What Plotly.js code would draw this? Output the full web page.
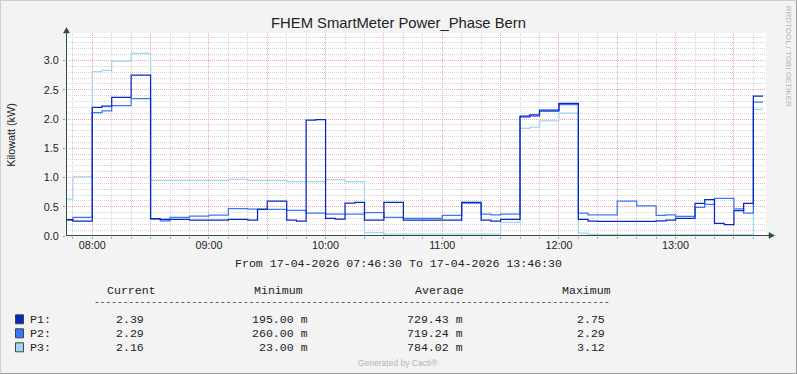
<!DOCTYPE html>
<html>
<head>
<meta charset="utf-8">
<script src="https://cdn.plot.ly/plotly-3.0.1.min.js"></script>
<style>
  html, body { margin: 0; padding: 0; background: #f3f3f3; }
  #wrap { position: relative; width: 797px; height: 374px; }
  #chart { width: 797px; height: 374px; }
  #frame { position: absolute; left: 0; top: 0; width: 797px; height: 374px; box-sizing: border-box;
           border-top: 1px solid #cfcfcf; border-left: 1px solid #cfcfcf;
           border-right: 1px solid #9e9e9e; border-bottom: 1px solid #9e9e9e; pointer-events: none; }
</style>
</head>
<body>
<div id="wrap"><div id="chart"></div><div id="frame"></div></div>
<script>
// ---------- data (5-minute samples, first sample interval starts 07:45) ----------
const chartTitle = 'FHEM SmartMeter Power_Phase Bern';
const yAxisTitle = 'Kilowatt (kW)';
const dayPrefix = '2026-04-17 ';
const firstSampleMinute = 7 * 60 + 45;   // 07:45
const sampleStepMinutes = 5;
const viewStart = '2026-04-17 07:46:30';
const viewEnd = '2026-04-17 13:46:30';

const seriesNames = ['P1', 'P2', 'P3'];

const p1Values = [
  0.28, 0.256, 0.256, 2.20, 2.22, 2.37, 2.37, 2.75, 2.75,
  0.296, 0.286, 0.286, 0.286, 0.27, 0.27, 0.27, 0.27, 0.286, 0.286, 0.27,
  0.456, 0.595, 0.595, 0.27, 0.256, 1.98, 1.99, 0.30, 0.29, 0.56, 0.575,
  0.27, 0.27, 0.575, 0.575, 0.27, 0.27, 0.27, 0.27, 0.27, 0.27, 0.575, 0.575,
  0.27, 0.256, 0.285, 0.285, 2.05, 2.07, 2.15, 2.15, 2.265, 2.265,
  0.285, 0.256, 0.25, 0.25, 0.25, 0.25, 0.25, 0.25, 0.26, 0.27,
  0.302, 0.302, 0.558, 0.62, 0.217, 0.195, 0.435, 0.558, 2.39
];
const p2Values = [
  0.27, 0.32, 0.32, 2.11, 2.14, 2.23, 2.23, 2.35, 2.35,
  0.29, 0.26, 0.32, 0.32, 0.34, 0.34, 0.355, 0.355, 0.47, 0.47, 0.46,
  0.46, 0.456, 0.456, 0.44, 0.44, 0.39, 0.39, 0.376, 0.376, 0.376, 0.376,
  0.40, 0.40, 0.32, 0.32, 0.30, 0.30, 0.30, 0.30, 0.353, 0.353, 0.564, 0.564,
  0.376, 0.36, 0.376, 0.376, 2.03, 2.05, 2.13, 2.13, 2.245, 2.245,
  0.393, 0.36, 0.36, 0.36, 0.598, 0.598, 0.513, 0.513, 0.353, 0.36,
  0.336, 0.336, 0.49, 0.54, 0.644, 0.644, 0.465, 0.393, 2.29
];
const p3Values = [
  0.63, 1.01, 1.01, 2.81, 2.83, 2.99, 2.99, 3.12, 3.12,
  0.95, 0.95, 0.95, 0.95, 0.95, 0.95, 0.95, 0.95, 0.97, 0.97, 0.95,
  0.95, 0.95, 0.95, 0.93, 0.93, 0.93, 0.93, 0.963, 0.963, 0.93, 0.93,
  0.057, 0.057, 0.034, 0.034, 0.034, 0.034, 0.034, 0.034, 0.034, 0.034, 0.034, 0.034,
  0.034, 0.034, 0.234, 0.234, 1.84, 1.86, 1.97, 1.97, 2.10, 2.10,
  0.05, 0.028, 0.025, 0.025, 0.025, 0.025, 0.025, 0.025, 0.025, 0.025,
  0.025, 0.025, 0.025, 0.023, 0.025, 0.025, 0.025, 0.025, 2.165
];

const xTickValues = ['08:00','08:30','09:00','09:30','10:00','10:30','11:00','11:30','12:00','12:30','13:00','13:30'];
const xTickLabels = ['08:00','','09:00','','10:00','','11:00','','12:00','','13:00',''];

const legendHeaders = ['Current', 'Minimum', 'Average', 'Maximum'];
const currentVals = ['2.39', '2.29', '2.16'];
const minimumVals = ['195.00 m', '260.00 m', '23.00 m'];
const averageVals = ['729.43 m', '719.24 m', '784.02 m'];
const maximumVals = ['2.75', '2.29', '3.12'];
const rangeText = 'From 17-04-2026 07:46:30 To 17-04-2026 13:46:30';
const footerText = 'Generated by Cacti®';
const watermarkText = 'RRDTOOL / TOBI OETIKER';

// ---------- styles ----------
const seriesColors = ['#0a28bf', '#3a78f8', '#a4d4ee'];
const axisColor = '#2c4d43';
const textColor = '#222222';

function clock(m) {
  const h = Math.floor(m / 60), mm = m % 60;
  return (h < 10 ? '0' : '') + h + ':' + (mm < 10 ? '0' : '') + mm;
}
function sampleTimes(n) {
  const out = [];
  for (let i = 0; i <= n; i++) out.push(dayPrefix + clock(firstSampleMinute + i * sampleStepMinutes) + ':00');
  return out;
}
function stepSeries(vals) { return vals.concat([vals[vals.length - 1]]); }

const allValues = [p1Values, p2Values, p3Values];
const traces = [];
[2, 1, 0].forEach(function (i) {
  traces.push({
    type: 'scatter', mode: 'lines', name: seriesNames[i],
    x: sampleTimes(allValues[i].length), y: stepSeries(allValues[i]),
    line: { shape: 'hv', color: seriesColors[i], width: 1.25 },
    hoverinfo: 'skip', showlegend: false
  });
});

// ---------- geometry helpers (pixel -> paper) ----------
const L = 66, T = 33, PW = 700, PH = 203;
function px(x) { return (x - L) / PW; }
function py(y) { return (T + PH - y) / PH; }

const mono = { family: 'Liberation Mono, monospace', size: 11.6, color: textColor };
const ann = [];
function addText(text, x, y, xanchor, font, extra) {
  const a = { text: text, xref: 'paper', yref: 'paper', x: px(x), y: py(y), xanchor: xanchor, yanchor: 'middle',
              showarrow: false, font: font, borderpad: 0, borderwidth: 0 };
  if (extra) Object.assign(a, extra);
  ann.push(a);
}
addText(rangeText, 398, 263, 'center', mono);
const headerX = [107.3, 254, 415, 561.7];
legendHeaders.forEach(function (h, i) { addText(h, headerX[i], 290, 'left', mono, { height: 10 }); });
addText('-'.repeat(90), 94.3, 302.6, 'left', { family: 'Liberation Mono, monospace', size: 9.55, color: textColor }, { height: 7 });
const rowY = [319.3, 333.3, 347.3];
const colRight = [144, 307.5, 462.5, 604.6];
const shapes = [];
seriesNames.forEach(function (n, i) {
  const h = { height: 12 };
  addText(n + ':', 30, rowY[i], 'left', mono, h);
  addText(currentVals[i], colRight[0], rowY[i], 'right', mono, h);
  addText(minimumVals[i], colRight[1], rowY[i], 'right', mono, h);
  addText(averageVals[i], colRight[2], rowY[i], 'right', mono, h);
  addText(maximumVals[i], colRight[3], rowY[i], 'right', mono, h);
  shapes.push({ type: 'rect', xref: 'paper', yref: 'paper', x0: px(15.5), x1: px(23.5),
                y0: py(rowY[i] - 4.5), y1: py(rowY[i] + 4.5),
                fillcolor: seriesColors[i], line: { color: axisColor, width: 1 } });
});
addText(footerText, 398, 363, 'center', { family: 'Liberation Sans, Arial, sans-serif', size: 8.5, color: '#b4b4b4' });
addText(watermarkText, 788.3, 56, 'center', { family: 'Liberation Sans, Arial, sans-serif', size: 8, color: '#b4b4b4' }, { textangle: 90 });
addText(yAxisTitle, 10.8, 135, 'center', { family: 'Liberation Sans, Arial, sans-serif', size: 10.8, color: textColor }, { textangle: -90 });

// axes with arrows
shapes.push({ type: 'line', xref: 'paper', yref: 'paper', x0: px(66.5), x1: px(66.5), y0: py(236), y1: py(31),
              line: { color: axisColor, width: 1 } });
shapes.push({ type: 'path', xref: 'paper', yref: 'paper',
              path: 'M' + px(63.5) + ',' + py(33) + ' L' + px(69.5) + ',' + py(33) + ' L' + px(66.5) + ',' + py(27.5) + ' Z',
              fillcolor: axisColor, line: { color: axisColor, width: 0.5 } });
shapes.push({ type: 'line', xref: 'paper', yref: 'paper', x0: px(66), x1: px(770), y0: py(235.5), y1: py(235.5),
              line: { color: axisColor, width: 1 } });
shapes.push({ type: 'path', xref: 'paper', yref: 'paper',
              path: 'M' + px(769) + ',' + py(232.5) + ' L' + px(769) + ',' + py(238.5) + ' L' + px(774.5) + ',' + py(235.5) + ' Z',
              fillcolor: axisColor, line: { color: axisColor, width: 0.5 } });

const tickFont = { family: 'Liberation Sans, Arial, sans-serif', size: 10.8, color: textColor };
const majorGrid = '#f2a6a6';
const minorGrid = '#d4d4d4';

const layout = {
  width: 797, height: 374,
  margin: { l: L, r: 797 - L - PW, t: T, b: 374 - T - PH, pad: 0 },
  paper_bgcolor: '#f3f3f3', plot_bgcolor: '#ffffff',
  showlegend: false, hovermode: false,
  title: { text: chartTitle, x: 0.5, xref: 'container', xanchor: 'center',
           y: 1 - 23 / 374, yref: 'container', yanchor: 'middle',
           font: { family: 'Liberation Sans, Arial, sans-serif', size: 14.8, color: textColor } },
  xaxis: {
    type: 'date', range: [viewStart, viewEnd], fixedrange: true,
    tickmode: 'array', tickvals: xTickValues.map(function (t) { return dayPrefix + t + ':00'; }), ticktext: xTickLabels,
    showgrid: true, gridcolor: majorGrid, griddash: '1px,1px', gridwidth: 1,
    ticks: 'outside', ticklen: 2, tickcolor: '#999999', tickfont: tickFont, ticklabelstandoff: -3,
    showline: false, zeroline: false,
    minor: { tickmode: 'linear', tick0: dayPrefix + '07:50:00', dtick: 10 * 60 * 1000,
             showgrid: true, gridcolor: minorGrid, griddash: '1px,1px', gridwidth: 1,
             ticks: 'outside', ticklen: 2, tickcolor: '#aaaaaa' }
  },
  yaxis: {
    range: [0, 3.47], fixedrange: true,
    tickmode: 'linear', tick0: 0, dtick: 0.5, tickformat: '.1f',
    showgrid: true, gridcolor: majorGrid, griddash: '1px,1px', gridwidth: 1,
    ticks: 'outside', ticklen: 2, tickcolor: '#999999', tickfont: tickFont, ticklabelstandoff: 2,
    showline: false, zeroline: false,
    minor: { tickmode: 'linear', tick0: 0, dtick: 0.1,
             showgrid: true, gridcolor: minorGrid, griddash: '1px,1px', gridwidth: 1 }
  },
  shapes: shapes,
  annotations: ann
};

Plotly.newPlot('chart', traces, layout, { staticPlot: true, displayModeBar: false });
</script>
</body>
</html>
